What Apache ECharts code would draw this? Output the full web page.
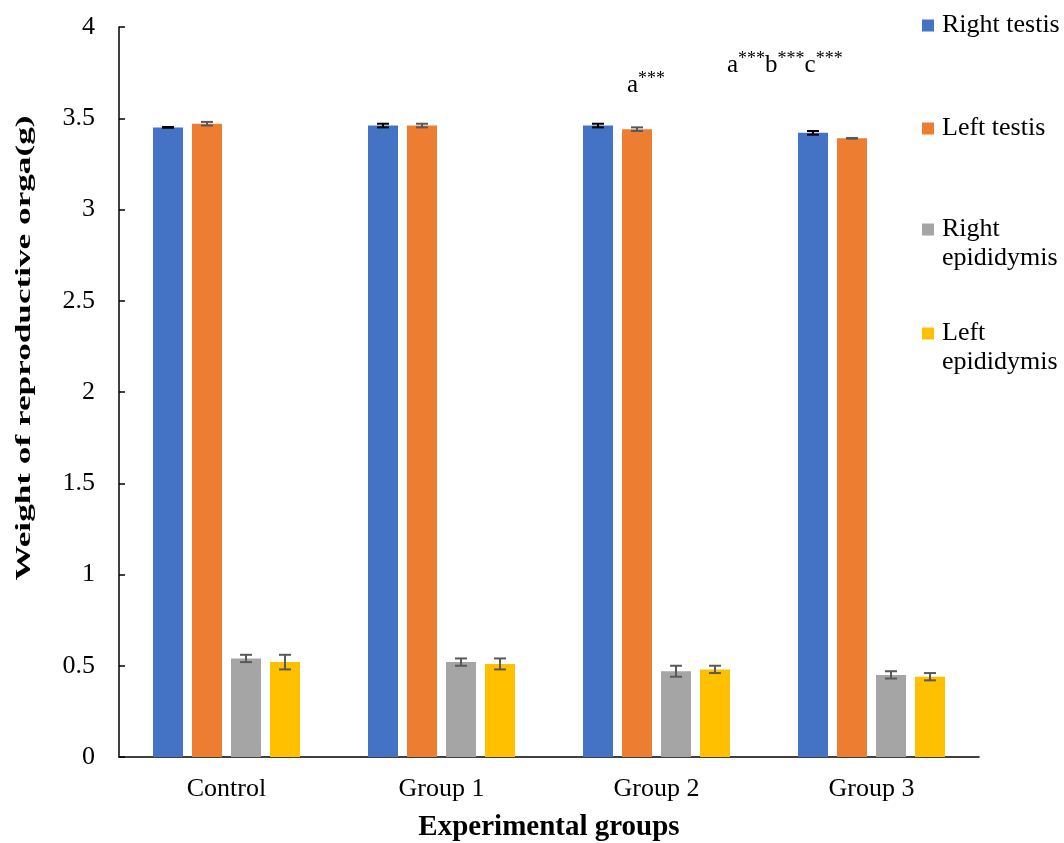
<!DOCTYPE html>
<html><head><meta charset="utf-8">
<script src="https://cdn.jsdelivr.net/npm/echarts@6/dist/echarts.min.js"></script>
<style>html,body{margin:0;padding:0;background:#fff}#chart{width:1064px;height:843px}</style>
</head><body><div id="chart"></div>
<script>
// ---- data ----
const categories = ['Control', 'Group 1', 'Group 2', 'Group 3'];
const seriesNames = ['Right testis', 'Left testis', 'Right epididymis', 'Left epididymis'];
const rightTestis = [3.45, 3.46, 3.46, 3.42];
const leftTestis = [3.47, 3.46, 3.44, 3.39];
const rightEpididymis = [0.54, 0.52, 0.47, 0.45];
const leftEpididymis = [0.52, 0.51, 0.48, 0.44];
const rightTestisErr = [0.002, 0.01, 0.01, 0.01];
const leftTestisErr = [0.01, 0.01, 0.01, 0.002];
const rightEpididymisErr = [0.02, 0.02, 0.03, 0.02];
const leftEpididymisErr = [0.04, 0.03, 0.02, 0.02];
const yTicks = { min: 0, max: 4, interval: 0.5 };
const yTitle = 'Weight of reproductive orga(g)';
const xTitle = 'Experimental groups';

// ---- styling ----
const FONT = "'Liberation Serif', 'Times New Roman', serif";
const colors = ['#4472C4', '#ED7D31', '#A5A5A5', '#FFC000'];
const errColors = ['#000000', '#595959', '#595959', '#595959'];
const BAR_W = 30, GAP = 9;
const values = [rightTestis, leftTestis, rightEpididymis, leftEpididymis];
const errs = [rightTestisErr, leftTestisErr, rightEpididymisErr, leftEpididymisErr];

function errRenderer(si) {
  return function (params, api) {
    const cat = api.value(0);
    const lo = api.coord([cat, api.value(1)]);
    const hi = api.coord([cat, api.value(2)]);
    const x = lo[0] + (si - 1.5) * (BAR_W + GAP);
    const cap = 6;
    const st = { stroke: errColors[si], lineWidth: 2 };
    return {
      type: 'group',
      children: [
        { type: 'line', shape: { x1: x, y1: lo[1], x2: x, y2: hi[1] }, style: st },
        { type: 'line', shape: { x1: x - cap, y1: lo[1], x2: x + cap, y2: lo[1] }, style: st },
        { type: 'line', shape: { x1: x - cap, y1: hi[1], x2: x + cap, y2: hi[1] }, style: st }
      ]
    };
  };
}

const barSeries = seriesNames.map((n, i) => ({
  name: n, type: 'bar', data: values[i], barWidth: BAR_W, barGap: (GAP / BAR_W * 100) + '%',
  itemStyle: { color: colors[i] }, z: 2
}));
const errSeries = seriesNames.map((n, i) => ({
  name: 'err_' + i, type: 'custom', renderItem: errRenderer(i), z: 5,
  encode: { x: 0, y: [1, 2] },
  data: values[i].map((v, k) => [k, v - errs[i][k], v + errs[i][k]])
}));

const legendTops = [11, 114, 215, 319];
const twoLineIcon = 'path://M0,0H12V12H0Z M0,41L0,41';
const legends = seriesNames.map((n, i) => {
  const twoLine = n.indexOf('epididymis') >= 0;
  return {
    data: [n], orient: 'vertical', left: 922, top: legendTops[i], padding: 0,
    itemWidth: 12, itemHeight: twoLine ? 41 : 12,
    icon: twoLine ? twoLineIcon : 'rect',
    selectedMode: false,
    formatter: nm => twoLine ? nm.replace(' ', '\n') : nm,
    textStyle: { fontFamily: FONT, fontSize: 26, color: '#000', lineHeight: 29, padding: [0, 0, 0, 3] }
  };
});

const star = { fontFamily: FONT, fontSize: 18, lineHeight: 18, fill: '#000', verticalAlign: 'top' };
const letter = { fontFamily: FONT, fontSize: 25, lineHeight: 28, fill: '#000', verticalAlign: 'bottom' };

const chart = echarts.init(document.getElementById('chart'));
chart.setOption({
  backgroundColor: '#fff',
  animation: false,
  color: colors,
  grid: { left: 119, right: 85, top: 27, bottom: 86, outerBoundsMode: 'none', containLabel: false },
  legend: legends,
  xAxis: {
    type: 'category', data: categories,
    name: xTitle, nameLocation: 'middle', nameGap: 56,
    nameTextStyle: { fontFamily: FONT, fontSize: 29, fontWeight: 'bold', color: '#000' },
    axisLine: { lineStyle: { color: '#000', width: 1.5 } },
    axisTick: { inside: true, length: 6, lineStyle: { color: '#000', width: 1.5 } },
    axisLabel: { fontFamily: FONT, fontSize: 26, color: '#000', margin: 19 }
  },
  yAxis: {
    type: 'value', min: yTicks.min, max: yTicks.max, interval: yTicks.interval,
    axisLine: { show: true, lineStyle: { color: '#000', width: 1.5 } },
    axisTick: { show: true, inside: true, length: 6, lineStyle: { color: '#000', width: 1.5 } },
    axisLabel: { fontFamily: FONT, fontSize: 26, color: '#000', margin: 24 },
    splitLine: { show: false }
  },
  graphic: [
    {
      type: 'text', x: 24, y: 348, rotation: Math.PI / 2, scaleX: 1.6, z: 10,
      style: { text: yTitle, fontFamily: FONT, fontSize: 22, fontWeight: 'bold', fill: '#000', align: 'center', verticalAlign: 'middle' }
    },
    {
      type: 'text', left: 627, top: 70, z: 10,
      style: { text: '{a|a}{s|***}', rich: { a: letter, s: star } }
    },
    {
      type: 'text', left: 727, top: 50, z: 10,
      style: { text: '{a|a}{s|***}{a|b}{s|***}{a|c}{s|***}', rich: { a: letter, s: star } }
    }
  ],
  series: barSeries.concat(errSeries)
});
</script>
</body></html>
